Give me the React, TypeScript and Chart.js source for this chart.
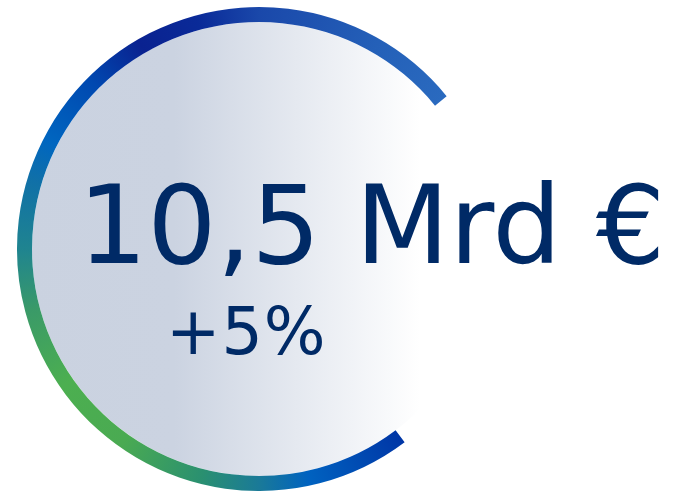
import React, { useEffect, useRef } from "react";
import { Chart, registerables } from "chart.js";

Chart.register(...registerables);

// Data
const ringSegments = ["Wert", "Rest"];
const ringValues = [74.4, 25.6];
const fillValues = [100];
const mainLabel = "10,5 Mrd €";
const changeLabel = "+5%";

const ringStops: [number, string][] = [
  [0, "#0036a6"],
  [0.069, "#0062c0"],
  [0.103, "#1a7a98"],
  [0.142, "#2a9070"],
  [0.2, "#4aaa52"],
  [0.256, "#4caf50"],
  [0.311, "#3a9a68"],
  [0.353, "#1f8490"],
  [0.4, "#1070a8"],
  [0.428, "#0066c0"],
  [0.478, "#0048b0"],
  [0.519, "#0a2290"],
  [0.561, "#0a2a98"],
  [0.603, "#1a48aa"],
  [0.686, "#2460b8"],
  [0.744, "#2a6abf"],
  [1, "#0036a6"],
];

const ROTATION = 143;

export default function App() {
  const ref = useRef<HTMLCanvasElement | null>(null);

  useEffect(() => {
    if (!ref.current) return;
    const textPlugin = {
      id: "centerText",
      afterDraw(chart: any) {
        const { ctx, chartArea } = chart;
        const cx = (chartArea.left + chartArea.right) / 2;
        const cy = (chartArea.top + chartArea.bottom) / 2;
        ctx.save();
        ctx.fillStyle = "#002a66";
        ctx.textBaseline = "alphabetic";
        ctx.textAlign = "left";
        ctx.font = '109px "DejaVu Sans"';
        (ctx as any).letterSpacing = "0px";
        ctx.fillText(mainLabel, cx - 181, cy + 14);
        ctx.font = '65px "DejaVu Sans"';
        (ctx as any).letterSpacing = "1px";
        ctx.fillText(changeLabel, cx - 93, cy + 105);
        ctx.restore();
      },
    };

    const chart = new Chart(ref.current, {
      type: "doughnut",
      data: {
        labels: ringSegments,
        datasets: [
          {
            data: ringValues,
            weight: 15,
            borderWidth: 0,
            backgroundColor: (c: any) => {
              const ch = c.chart;
              const a = ch.chartArea;
              if (!a) return "transparent";
              if (c.dataIndex === 1) return "rgba(0,0,0,0)";
              const cx = (a.left + a.right) / 2;
              const cy = (a.top + a.bottom) / 2;
              const g = ch.ctx.createConicGradient(((ROTATION - 90) * Math.PI) / 180, cx, cy);
              ringStops.forEach(([o, col]) => g.addColorStop(o, col));
              return g;
            },
          } as any,
          {
            data: fillValues,
            weight: 227,
            borderWidth: 0,
            backgroundColor: (c: any) => {
              const ch = c.chart;
              const a = ch.chartArea;
              if (!a) return "#cbd3e1";
              const g = ch.ctx.createLinearGradient(a.left, 0, a.left + 403, 0);
              g.addColorStop(0, "#cad2e0");
              g.addColorStop(0.39, "#cbd3e1");
              g.addColorStop(1, "#ffffff");
              return g;
            },
          } as any,
        ],
      },
      options: {
        animation: false,
        responsive: false,
        events: [],
        rotation: ROTATION,
        cutout: 0,
        layout: { padding: { left: 17, top: 7, right: 176, bottom: 0 } },
        plugins: { legend: { display: false }, tooltip: { enabled: false } },
      } as any,
      plugins: [textPlugin],
    });
    return () => chart.destroy();
  }, []);

  return (
    <div style={{ position: "fixed", left: 0, top: 0, width: 677, height: 491, background: "#fff" }}>
      <canvas ref={ref} width={677} height={491} style={{ display: "block" }} />
    </div>
  );
}
